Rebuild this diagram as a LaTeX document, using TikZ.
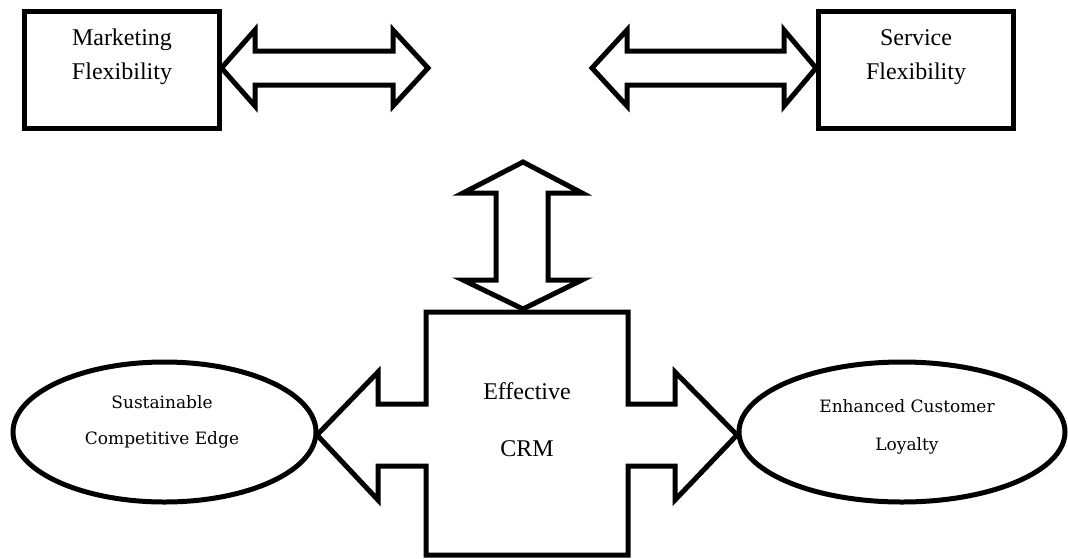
\documentclass[tikz,border=0pt]{standalone}
\usepackage{fontspec}
\setmainfont{Liberation Serif}
\newfontfamily\ellfont{DejaVu Serif}
\usetikzlibrary{shapes.geometric}
\begin{document}
\begin{tikzpicture}[x=1pt,y=-1pt,
  shapeline/.style={line width=5pt, line join=miter, draw=black, fill=white},
  boxnode/.style={draw=black, line width=5pt, fill=white, inner sep=0pt, minimum width=195pt, minimum height=117pt},
  ellnode/.style={ellipse, draw=black, line width=5pt, fill=white, inner sep=0pt, minimum height=140pt},
  boxtext/.style={font=\fontsize{24}{34}\selectfont, align=center, inner sep=0pt},
  elltext/.style={font=\ellfont\fontsize{17}{36}\selectfont, align=center, inner sep=0pt}]
\useasboundingbox (0,0) rectangle (1068,558);
% top boxes
\node[boxnode] (mkt) at (121.5,69.5) {};
\node[boxnode] (svc) at (916,69.5) {};
\node[boxtext] (mkttxt) at (122,57) {Marketing\\Flexibility};
\node[boxtext] (svctxt) at (916,57) {Service\\Flexibility};
% top double arrows
\draw[shapeline] (mkt.east |- 0,68) -- (255,30) -- (255,51) -- (393,51) -- (393,30) -- (428,68)
  -- (393,106) -- (393,85) -- (255,85) -- (255,106) -- cycle;
\draw[shapeline] (592,68) -- (627,30) -- (627,51) -- (784,51) -- (784,30) -- (svc.west |- 0,68)
  -- (784,106) -- (784,85) -- (627,85) -- (627,106) -- cycle;
% vertical double arrow
\draw[shapeline] (523,162) -- (582,193) -- (548,193) -- (548,280) -- (582,280) -- (523,309)
  -- (463,280) -- (496,280) -- (496,193) -- (463,193) -- cycle;
% central shape
\draw[shapeline] (426,312) -- (628,312) -- (628,404) -- (675,404) -- (675,372) -- (737,435)
  -- (675,500) -- (675,466) -- (628,466) -- (628,555) -- (426,555) -- (426,466) -- (378,466)
  -- (378,500) -- (317,435) -- (378,372) -- (378,404) -- (426,404) -- cycle;
\node[boxtext, font=\fontsize{24}{57}\selectfont] (crm) at (527,420) {Effective\\CRM};
% ellipses
\node[ellnode, minimum width=303pt] (sce) at (164.5,432) {};
\node[ellnode, minimum width=326pt] (ecl) at (902,432) {};
\node[elltext] (scetxt) at (162,422) {Sustainable\\Competitive Edge};
\node[elltext, font=\ellfont\fontsize{17}{38}\selectfont] (ecltxt) at (907,427) {Enhanced Customer\\Loyalty};
\end{tikzpicture}
\end{document}
